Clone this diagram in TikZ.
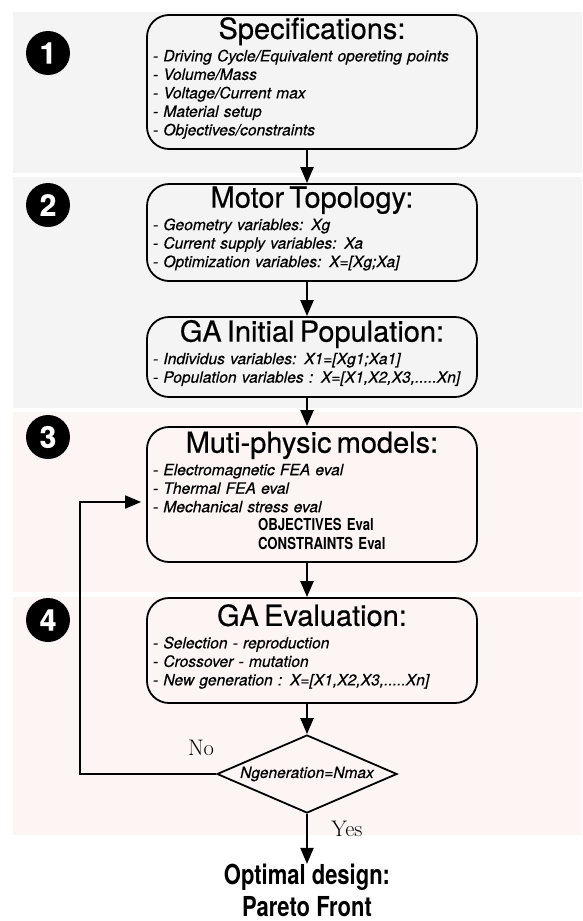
\documentclass[tikz,border=0pt]{standalone}
\usepackage{fontspec}
\newfontfamily\heros[FakeBold=0.5]{TeX Gyre Heros}
\newfontfamily\heroscond[FakeStretch=0.8]{TeX Gyre Heros}
\usetikzlibrary{arrows.meta,positioning,shapes.geometric}
\definecolor{bandgrey}{HTML}{F4F4F4}
\definecolor{bandpink}{HTML}{FDF5F4}
\newcommand{\stagetitle}[1]{{\centering\upshape\fontsize{29}{29}\selectfont #1\par}\vspace{4pt}}
\newcommand{\evalline}[1]{\hspace*{105pt}{\upshape\heroscond\bfseries\fontsize{16.5}{18.5}\selectfont #1}}
\begin{document}
\begin{tikzpicture}[x=1pt,y=-1pt,>={Triangle[length=16pt,width=13pt]},
    stage/.style={draw,line width=1.8pt,rounded corners=22pt,text width=318pt,inner xsep=6pt,inner ysep=1pt,align=left,
      font=\heros\itshape\fontsize{15.6}{18.5}\selectfont},
    numdot/.style={circle,fill=black,text=white,minimum size=44pt,inner sep=0pt,font=\heros\bfseries\fontsize{30}{30}\selectfont},
    decision/.style={diamond,draw,line width=1.8pt,aspect=2.3,inner sep=0pt,minimum width=180pt,minimum height=78pt,
      font=\heros\itshape\fontsize{15.5}{15.5}\selectfont},
    answer/.style={font=\fontsize{22.5}{22.5}\selectfont},
    flow/.style={->,line width=2.2pt}]
    \useasboundingbox (0,0) rectangle (582,921);

    % background bands
    \fill[bandgrey] (13,12) rectangle (582,173);
    \fill[bandgrey] (13,177) rectangle (582,408);
    \fill[bandpink] (13,412) rectangle (582,592);
    \fill[bandpink] (13,597) rectangle (582,835);

    % stage numbers
    \node[numdot] (n1) at (48,53) {1};
    \node[numdot] (n2) at (48,205) {2};
    \node[numdot] (n3) at (48,437) {3};
    \node[numdot] (n4) at (48,620) {4};

    % flow boxes
    \node[stage,minimum height=134pt] (spec) at (312,82) {\stagetitle{Specifications:}
      - Driving Cycle/Equivalent opereting points\\
      - Volume/Mass\\
      - Voltage/Current max\\
      - Material setup\\
      - Objectives/constraints\par\kern8pt};

    \node[stage,minimum height=97pt] (topo) at (312,232.5) {\stagetitle{Motor Topology:}
      - Geometry variables: Xg\\
      - Current supply variables: Xa\\
      - Optimization variables: X=[Xg;Xa]\par\kern8pt};

    \node[stage,minimum height=80pt] (init) at (312,357) {\stagetitle{GA Initial Population:}
      - Individus variables: X1=[Xg1;Xa1]\\
      - Population variables : X=[X1,X2,X3,.....Xn]\par\kern8pt};

    \node[stage,minimum height=135pt] (phys) at (312,494.5) {\stagetitle{Muti-physic models:}
      - Electromagnetic FEA eval\\
      - Thermal FEA eval\\
      - Mechanical stress eval\\
      \evalline{OBJECTIVES Eval}\\
      \evalline{CONSTRAINTS Eval}\par\kern8pt};

    \node[stage,minimum height=105pt] (gaeval) at (312,650.5) {\stagetitle{GA Evaluation:}
      - Selection - reproduction\\
      - Crossover - mutation\\
      - New generation : X=[X1,X2,X3,.....Xn]\par\kern8pt};

    \node[decision] (dec) at (307,774) {Ngeneration=Nmax};

    \node[below=50pt of dec,inner sep=0pt,align=center,font=\heroscond\bfseries\fontsize{27.5}{32}\selectfont] (front)
      {Optimal design:\\Pareto Front};

    % connectors
    \draw[flow] (spec.south -| dec.north) -- (topo.north -| dec.north);
    \draw[flow] (topo.south -| dec.north) -- (init.north -| dec.north);
    \draw[flow] (init.south -| dec.north) -- (phys.north -| dec.north);
    \draw[flow] (phys.south -| dec.north) -- (gaeval.north -| dec.north);
    \draw[flow] (gaeval.south -| dec.north) -- (dec.north);
    \draw[flow] (dec.south) -- (front.north);
    \draw[flow,line width=1.8pt,shorten >=5pt] (dec.west) -- ++(-136,0) |- ([yshift=-7.5pt]phys.west);

    \node[answer] (no) at ([xshift=-15pt,yshift=26pt]dec.west) {No};
    \node[answer] (yes) at ([xshift=40pt,yshift=-15pt]dec.south) {Yes};
  \end{tikzpicture}
\end{document}
